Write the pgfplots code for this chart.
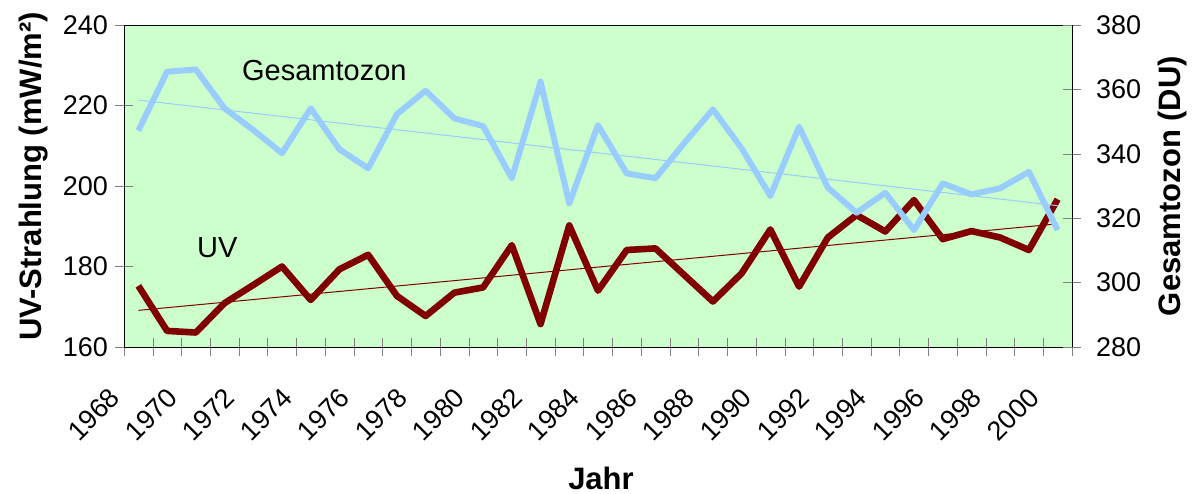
\documentclass[border=0pt]{standalone}
\usepackage{fontspec}
\setmainfont{Liberation Sans}
\usepackage{pgfplots}
\usepackage{pgfplotstable}
\pgfplotsset{compat=1.18}

\definecolor{uvred}{RGB}{128,0,0}
\definecolor{ozblue}{RGB}{153,204,255}
\definecolor{bggreen}{RGB}{204,255,204}

% Jahr, UV-Strahlung (mW/m2), Gesamtozon (DU)
\pgfplotstableread{
year uv    oz
1968 175.2 347.2
1969 164.0 365.5
1970 163.6 366.2
1971 170.9 354.1
1972 175.4 347.4
1973 180.0 340.2
1974 171.7 354.1
1975 179.3 341.4
1976 182.9 335.5
1977 172.7 352.3
1978 167.7 359.6
1979 173.5 351.0
1980 174.8 348.6
1981 185.3 332.4
1982 165.7 362.4
1983 190.2 324.6
1984 174.0 348.9
1985 184.1 333.9
1986 184.5 332.4
1987 177.9 343.3
1988 171.3 353.8
1989 178.3 341.7
1990 189.2 326.9
1991 175.0 348.4
1992 187.2 329.5
1993 192.8 321.7
1994 188.7 327.9
1995 196.5 316.3
1996 186.8 330.8
1997 188.8 327.4
1998 187.2 329.3
1999 184.1 334.4
2000 196.7 316.3
}\data

\begin{document}
\begin{tikzpicture}
\pgfplotsset{
  common/.style={
    scale only axis, width=474pt, height=161pt,
    xmin=1967.5, xmax=2000.5,
    tick align=center,
    major tick length=9pt, minor tick length=9pt,
    ticklabel style={font=\fontsize{13.5}{16}\selectfont},
    label style={font=\bfseries\fontsize{15.5}{18}\selectfont},
    /pgf/number format/assume math mode=true,
    /pgf/number format/1000 sep={},
  }
}
\begin{axis}[common,
  axis background/.style={fill=bggreen},
  ymin=160, ymax=240, ytick={160,180,...,240},
  xtick pos=bottom, ytick pos=left,
  xtick={1968,1970,...,2000},
  minor xtick={1967.5,1968.5,...,2000.5},
  major x tick style={draw=none},
  xticklabel style={xshift=-9.2pt, yshift=-16pt, rotate=45, anchor=east},
  yticklabel style={xshift=0pt},
  xlabel={Jahr},
  xlabel style={at={(rel axis cs:0.5,0)}, anchor=center, yshift=-65.5pt, xshift=1.5pt},
  ylabel={UV-Strahlung (mW/m²)},
  ylabel style={at={(rel axis cs:0,0.5)}, anchor=center, yshift=45pt, xshift=4.75pt},
]
\addplot[uvred, line width=0.5pt, forget plot] table[x=year, y={create col/linear regression={y=uv}}] {\data};
\addplot[uvred, line width=3.3pt, line join=round] table[x=year, y=uv] {\data};
\node[anchor=west, inner sep=0pt, font=\fontsize{14.5}{17}\selectfont] at (axis cs:1971.6,228.8) {Gesamtozon};
\node[anchor=west, inner sep=0pt, font=\fontsize{14.5}{17}\selectfont] at (axis cs:1970.03,184.8) {UV};
\end{axis}
\begin{axis}[common,
  axis y line*=right, axis x line=none,
  ymin=280, ymax=380, ytick={280,300,...,380},
  yticklabel style={xshift=4pt},
  ylabel={Gesamtozon (DU)},
  ylabel style={at={(rel axis cs:1,0.5)}, anchor=center, yshift=-50pt},
]
\addplot[ozblue, line width=0.5pt] table[x=year, y={create col/linear regression={y=oz}}] {\data};
\addplot[ozblue, line width=3pt, line join=round] table[x=year, y=oz] {\data};
\end{axis}
\pgfresetboundingbox
\path[use as bounding box] (-62pt,-73pt) rectangle (538pt,173.5pt);
\end{tikzpicture}
\end{document}
